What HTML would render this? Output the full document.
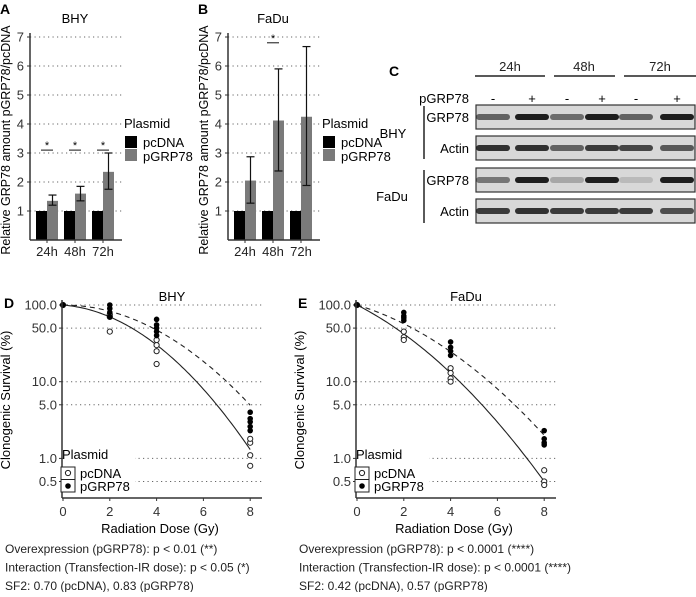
<!DOCTYPE html>
<html><head><meta charset="utf-8"><style>
body{margin:0;background:#fff;width:696px;height:592px;overflow:hidden;font-family:"Liberation Sans",Arial,sans-serif}
svg text{font-family:"Liberation Sans",Arial,sans-serif}
</style></head><body>
<svg id="fig" width="696" height="592" viewBox="0 0 696 592" xmlns="http://www.w3.org/2000/svg">
<g id="c-panel">
<text x="389" y="76" font-size="14" font-weight="bold">C</text>
<g font-size="13" fill="#222" text-anchor="middle">
<text x="510" y="71">24h</text>
<text x="584" y="71">48h</text>
<text x="660" y="71">72h</text>
</g>
<line x1="475" y1="76" x2="545" y2="76" stroke="#222" stroke-width="1.5"/>
<line x1="554" y1="76" x2="615" y2="76" stroke="#222" stroke-width="1.5"/>
<line x1="624" y1="76" x2="696" y2="76" stroke="#222" stroke-width="1.5"/>
<text x="469" y="103" font-size="13" text-anchor="end">pGRP78</text>
<g font-size="13" text-anchor="middle">
<text x="493" y="103">-</text><text x="532" y="103">+</text><text x="567" y="103">-</text><text x="602" y="103">+</text><text x="636" y="103">-</text><text x="677" y="103">+</text>
</g>
<g id="blots"></g>
<g font-size="13" text-anchor="end">
<text x="469" y="122">GRP78</text><text x="469" y="153">Actin</text><text x="469" y="185">GRP78</text><text x="469" y="216">Actin</text>
</g>
<line x1="424" y1="106" x2="424" y2="159" stroke="#222" stroke-width="1.5"/>
<line x1="424" y1="170" x2="424" y2="223" stroke="#222" stroke-width="1.5"/>
<text x="393" y="138" font-size="13" text-anchor="middle">BHY</text>
<text x="392" y="201" font-size="13" text-anchor="middle">FaDu</text>
</g>
<g id="pA"></g><g id="pB"></g><g id="pD"></g><g id="pE"></g>
</svg>
<script>
// Bar chart data
const barCats = ["24h","48h","72h"];
const bhyPcdna = [1,1,1];
const bhyPgrp = [1.35,1.6,2.35];
const bhyLo = [1.2,1.35,1.75];
const bhyHi = [1.55,1.85,3.0];
const faduPcdna = [1,1,1];
const faduPgrp = [2.05,4.12,4.25];
const faduLo = [1.27,2.38,1.88];
const faduHi = [2.87,5.9,6.67];
const barTicks = [1,2,3,4,5,6,7];
// Survival data
const doseTicks = [0,2,4,6,8];
const survTicks = [100,50,10,5,1,0.5];
const survTickLabels = ["100.0","50.0","10.0","5.0","1.0","0.5"];
const bhyPcdnaPts = [[0,100],[2,45],[2,70],[2,75],[4,17],[4,25],[4,30],[4,35],[8,0.8],[8,1.1],[8,1.6],[8,1.8]];
const bhyPgrpPts = [[0,100],[2,100],[2,90],[2,80],[2,70],[4,65],[4,55],[4,50],[4,45],[4,40],[8,4],[8,3.3],[8,3],[8,2.6],[8,2.3]];
const faduPcdnaPts = [[0,100],[2,45],[2,38],[2,35],[4,15],[4,13],[4,11],[4,10],[8,0.7],[8,0.5],[8,0.45]];
const faduPgrpPts = [[0,100],[2,80],[2,72],[2,68],[2,63],[4,33],[4,28],[4,25],[4,22],[8,2.3],[8,1.8],[8,1.6],[8,1.5]];
const bhyPcdnaLQ = [0.057,0.0607];
const bhyPgrpLQ = [0.0,0.047];
const faduPcdnaLQ = [0.358,0.038];
const faduPgrpLQ = [0.212,0.0346];

const NS="http://www.w3.org/2000/svg";
function mk(p,tag,a,txt){const e=document.createElementNS(NS,tag);for(const k in a)e.setAttribute(k,a[k]);if(txt!==undefined)e.textContent=txt;p.appendChild(e);return e;}

// blots
const blots=document.getElementById('blots');
const boxes=[[105,1],[136,0],[168,1],[199,0]];
const laneX=[493,532,567,602,636,677];
const intens=[[0.6,0.95,0.55,0.95,0.6,0.95],[0.85,0.85,0.6,0.8,0.75,0.65],[0.5,0.95,0.25,0.95,0.15,0.95],[0.8,0.85,0.8,0.8,0.8,0.7]];
boxes.forEach((b,i)=>{
 const r=mk(blots,'rect',{x:476,y:b[0],width:219,height:24,fill:'#d8d8d8',stroke:'#333','stroke-width':1.2});
 
 
 laneX.forEach((x,j)=>{const v=intens[i][j];mk(blots,'rect',{x:x-17,y:b[0]+9,width:34,height:6,rx:3,fill:`rgba(20,20,20,${v})`});});
});

function barPanel(id,x0,label,title,pc,pg,lo,hi,sig){
 const g=document.getElementById(id);
 const x=v=>x0+v, y=v=>240-(v)*29;
 mk(g,'text',{x:x0-30,y:14,'font-size':14,'font-weight':'bold'},label);
 mk(g,'text',{x:x0+45,y:23,'font-size':13,'text-anchor':'middle'},title);
 barTicks.forEach(t=>{
  const gl=mk(g,'line',{x1:x0,x2:x0+92,y1:y(t),y2:y(t),stroke:'#666','stroke-dasharray':'1.2,3.3','stroke-width':1});
  
  
  mk(g,'line',{x1:x0-3,x2:x0,y1:y(t),y2:y(t),stroke:'#333'});
  mk(g,'text',{x:x0-6,y:y(t)+4.5,'font-size':13,'text-anchor':'end',fill:'#333'},t);
 });
 const gx=[6,34,62];
 barCats.forEach((c,i)=>{
  const b1=mk(g,'rect',{x:x0+gx[i],y:y(pc[i]),width:11,height:y(0)-y(pc[i]),fill:'#000'});
  
  
  const b2=mk(g,'rect',{x:x0+gx[i]+11,y:y(pg[i]),width:11,height:y(0)-y(pg[i]),fill:'#7a7a7a'});
  
  
  const cx=x0+gx[i]+16.5;
  mk(g,'line',{x1:cx,x2:cx,y1:y(lo[i]),y2:y(hi[i]),stroke:'#111','stroke-width':1.2});
  mk(g,'line',{x1:cx-4,x2:cx+4,y1:y(lo[i]),y2:y(lo[i]),stroke:'#111','stroke-width':1.2});
  mk(g,'line',{x1:cx-4,x2:cx+4,y1:y(hi[i]),y2:y(hi[i]),stroke:'#111','stroke-width':1.2});
  mk(g,'line',{x1:x0+gx[i]+11,x2:x0+gx[i]+11,y1:240,y2:243,stroke:'#333'});
  mk(g,'text',{x:x0+gx[i]+11,y:256,'font-size':13,'text-anchor':'middle',fill:'#222'},c);
  if(sig[i]){mk(g,'line',{x1:x0+gx[i]+5,x2:x0+gx[i]+17,y1:y(sig[i]),y2:y(sig[i]),stroke:'#111'});
   mk(g,'text',{x:x0+gx[i]+11,y:y(sig[i])-1,'font-size':11,'text-anchor':'middle'},'*');}
 });
 mk(g,'line',{x1:x0,x2:x0,y1:33,y2:240,stroke:'#333','stroke-width':1.5});
 mk(g,'line',{x1:x0,x2:x0+92,y1:240,y2:240,stroke:'#333','stroke-width':1.5});
 mk(g,'text',{transform:`translate(${x0-20},140) rotate(-90)`,'font-size':12.5,'text-anchor':'middle'},'Relative GRP78 amount pGRP78/pcDNA');
 const lg=mk(g,'g',{});
 
 
 mk(lg,'text',{x:x0+94,y:128,'font-size':13},'Plasmid');
 mk(lg,'rect',{x:x0+95,y:136,width:12,height:12,fill:'#000'});
 mk(lg,'rect',{x:x0+95,y:149,width:12,height:12,fill:'#7a7a7a'});
 mk(lg,'text',{x:x0+113,y:147,'font-size':13},'pcDNA');
 mk(lg,'text',{x:x0+113,y:161,'font-size':13},'pGRP78');
}
barPanel('pA',30,'A','BHY',bhyPcdna,bhyPgrp,bhyLo,bhyHi,[3.1,3.1,3.1]);
barPanel('pB',228,'B','FaDu',faduPcdna,faduPgrp,faduLo,faduHi,[0,6.8,0]);

function survPanel(id,x0,label,title,pcPts,pgPts,pcLQ,pgLQ,lines){
 const g=document.getElementById(id);
 const xs=d=>x0+1+d*23.4, ys=v=>305+(2-Math.log10(v))*76.7, right=x0+200;
 mk(g,'text',{x:x0-58,y:308,'font-size':14,'font-weight':'bold'},label);
 mk(g,'text',{x:x0+110,y:301,'font-size':13,'text-anchor':'middle'},title);
 survTicks.forEach((t,i)=>{
  const gl=mk(g,'line',{x1:x0,x2:right,y1:ys(t),y2:ys(t),stroke:'#666','stroke-dasharray':'1.2,3.3','stroke-width':1});
  
  
  mk(g,'line',{x1:x0-3,x2:x0,y1:ys(t),y2:ys(t),stroke:'#333'});
  mk(g,'text',{x:x0-5,y:ys(t)+4.5,'font-size':13,'text-anchor':'end',fill:'#333'},survTickLabels[i]);
 });
 doseTicks.forEach(d=>{
  mk(g,'line',{x1:xs(d),x2:xs(d),y1:498,y2:501,stroke:'#333'});
  mk(g,'text',{x:xs(d),y:516,'font-size':13,'text-anchor':'middle',fill:'#333'},d);
 });
 function curve(lq,dash,nm){
  let p='';for(let i=0;i<=80;i++){const d=i*0.1;const s=100*Math.exp(-lq[0]*d-lq[1]*d*d);p+=(i?'L':'M')+xs(d).toFixed(1)+','+ys(s).toFixed(1);}
  const c=mk(g,'path',{d:p,fill:'none',stroke:'#222','stroke-width':1.1,'stroke-dasharray':dash});
  
  
 }
 curve(pcLQ,'none','fit-pcdna');curve(pgLQ,'5,4','fit-pgrp78');
 pcPts.forEach(p=>{const c=mk(g,'circle',{cx:xs(p[0]),cy:ys(p[1]),r:2.6,fill:'#fff',stroke:'#222','stroke-width':1});
  });
 pgPts.forEach(p=>{const c=mk(g,'circle',{cx:xs(p[0]),cy:ys(p[1]),r:2.8,fill:'#000'});
  });
 mk(g,'line',{x1:x0,x2:x0,y1:300,y2:498,stroke:'#333','stroke-width':1.5});
 mk(g,'line',{x1:x0,x2:right,y1:498,y2:498,stroke:'#333','stroke-width':1.5});
 mk(g,'text',{x:x0+98,y:533,'font-size':13,'text-anchor':'middle'},'Radiation Dose (Gy)');
 mk(g,'text',{transform:`translate(${x0-52},400) rotate(-90)`,'font-size':13,'text-anchor':'middle'},'Clonogenic Survival (%)');
 const lg=mk(g,'g',{});
 
 
 mk(lg,'rect',{x:x0+1,y:445,width:72,height:50,fill:'#fff'});
 mk(lg,'text',{x:x0,y:459,'font-size':13},'Plasmid');
 mk(lg,'rect',{x:x0-1,y:467,width:14,height:25,fill:'#fff',stroke:'#222'});
 mk(lg,'line',{x1:x0-1,x2:x0+13,y1:479.5,y2:479.5,stroke:'#222'});
 mk(lg,'circle',{cx:x0+6,cy:473,r:2.6,fill:'#fff',stroke:'#222'});
 mk(lg,'circle',{cx:x0+6,cy:486,r:2.8,fill:'#000'});
 mk(lg,'text',{x:x0+18,y:478,'font-size':13},'pcDNA');
 mk(lg,'text',{x:x0+18,y:491,'font-size':13},'pGRP78');
 lines.forEach((l,i)=>{const t=mk(g,'text',{x:x0-57,y:553+i*18.5,'font-size':12,fill:'#222'},l);
  });
}
survPanel('pD',62,'D','BHY',bhyPcdnaPts,bhyPgrpPts,bhyPcdnaLQ,bhyPgrpLQ,
 ['Overexpression (pGRP78): p < 0.01 (**)','Interaction (Transfection-IR dose): p < 0.05 (*)','SF2: 0.70 (pcDNA), 0.83 (pGRP78)']);
survPanel('pE',356,'E','FaDu',faduPcdnaPts,faduPgrpPts,faduPcdnaLQ,faduPgrpLQ,
 ['Overexpression (pGRP78): p < 0.0001 (****)','Interaction (Transfection-IR dose): p < 0.0001 (****)','SF2: 0.42 (pcDNA), 0.57 (pGRP78)']);
</script>
</body></html>
